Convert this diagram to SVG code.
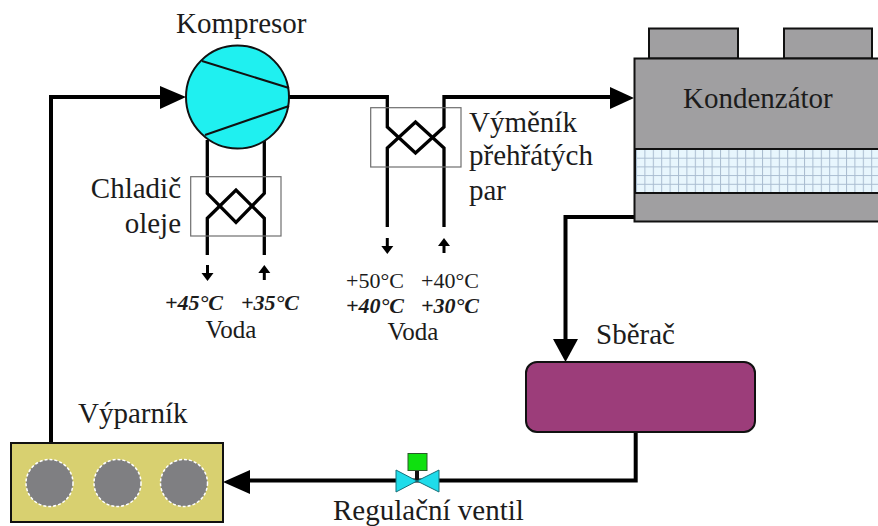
<svg xmlns="http://www.w3.org/2000/svg" width="878" height="526" viewBox="0 0 878 526">
<style>
text{font-family:"Liberation Serif","Times New Roman",serif;fill:#1c1c1c}
.m{font-size:29px}.v{font-size:25px}.s{font-size:22px}.b{font-size:22px;font-weight:bold;font-style:italic}
.p{fill:none;stroke:#000;stroke-width:4;stroke-linejoin:miter}
.h{fill:none;stroke:#000;stroke-width:3.300}
.t{fill:none;stroke:#000;stroke-width:3}
.hx{fill:none;stroke:#6e6e6e;stroke-width:1.2}
.e{stroke:#111;stroke-width:2}
.c{fill:#7f7f82;stroke:#fff;stroke-width:1.5;stroke-dasharray:3 2}
</style>
<defs>
<pattern id="mesh" x="636" y="149" width="8.4" height="8.7" patternUnits="userSpaceOnUse">
<rect width="8.4" height="8.7" fill="#e8f6fd"/>
<path d="M0 0H8.4M0 0V8.7" stroke="#a9bcd0" stroke-width="2" fill="none"/>
</pattern>
</defs>
<rect width="878" height="526" fill="#fff"/>
<g id="connectors">
<path class="p" d="M51 443V97H162"/>
<path d="M186 97L160 86V109Z"/>
<path class="p" d="M289 97H387.3M444 97H612"/>
<path class="h" d="M387.3 95V127L415.5 153L444 127V95"/>
<path d="M634 98L610 87V109Z"/>
<path class="h" d="M387.3 227V148L415.5 122L444 148V227"/>
<path class="h" d="M207.300 140V193.300L236 222.300L264.300 193.300V140"/>
<path class="h" d="M207.300 255V218.300L236 190L264.300 218.300V255"/>
<path class="p" d="M634 217H565.500V342"/>
<path d="M565.500 362L553 339H578Z"/>
<path class="p" d="M635.700 432V480.500H245"/>
<path d="M223 482L250 470V494Z"/>
<path class="t" d="M207.500 265V275"/><path d="M207.500 281L201.500 273H213.500Z"/>
<path class="t" d="M264.300 270V280"/><path d="M264.300 265L258.300 273H270.300Z"/>
<path class="t" d="M387.300 238V248"/><path d="M387.300 254L381.300 246H393.300Z"/>
<path class="t" d="M444 243V253"/><path d="M444 238L438 246H450Z"/>
</g>
<g id="kompresor">
<circle cx="237.500" cy="97" r="51.500" fill="#1ff0f0" class="e"/>
<path d="M202 61L289 88M205 135L289 106" class="e" fill="none"/>
<text class="m" x="176" y="33">Kompresor</text>
</g>
<g id="chladic">
<rect class="hx" x="190.700" y="176.700" width="90.300" height="59.300"/>
<text class="m" x="181" y="198" text-anchor="end">Chladič</text>
<text class="m" x="181" y="233" text-anchor="end">oleje</text>
</g>
<g id="vymenik">
<rect class="hx" x="370.700" y="107.700" width="90.300" height="59.300"/>
<text class="m" x="469" y="132">Výměník</text>
<text class="m" x="469" y="165">přehřátých</text>
<text class="m" x="469" y="200">par</text>
</g>
<g id="kondenzator">
<rect class="e" x="649" y="28.500" width="89" height="30" fill="#a09fa1"/>
<rect class="e" x="784" y="28.500" width="88" height="30" fill="#a09fa1"/>
<rect class="e" x="634.500" y="58.500" width="245" height="163" fill="#a09fa1"/>
<rect class="e" x="635" y="149" width="245" height="44" fill="url(#mesh)"/>
<text class="m" x="683" y="108">Kondenzátor</text>
</g>
<g id="sberac">
<rect class="e" x="526" y="362" width="229" height="70" rx="11" fill="#9c3d7a"/>
<text class="m" x="596" y="344">Sběrač</text>
</g>
<g id="ventil">
<path d="M417 480.500V468" stroke="#111" stroke-width="4"/>
<rect x="408" y="453.500" width="19" height="17" fill="#0fe00f" stroke="#2a5a2a" stroke-width="1"/>
<path d="M396 470L417 481L396 492ZM439 470L417 481L439 492Z" fill="#1fdcea" stroke="#16707a" stroke-width="1"/>
<text class="m" x="333" y="520">Regulační ventil</text>
</g>
<g id="vyparnik">
<rect class="e" x="11" y="443" width="212" height="79" fill="#d8d070"/>
<circle class="c" cx="49.500" cy="483" r="23.500"/>
<circle class="c" cx="117.500" cy="483" r="23.500"/>
<circle class="c" cx="184" cy="483" r="23.500"/>
<text class="m" x="78" y="423">Výparník</text>
</g>
<g id="voda1">
<text class="b" x="165" y="310">+45°C</text>
<text class="b" x="241" y="310">+35°C</text>
<text class="v" x="231" y="338" text-anchor="middle">Voda</text>
</g>
<g id="voda2">
<text class="s" x="346" y="288">+50°C</text>
<text class="s" x="421" y="288">+40°C</text>
<text class="b" x="346" y="313">+40°C</text>
<text class="b" x="421" y="313">+30°C</text>
<text class="v" x="413" y="340" text-anchor="middle">Voda</text>
</g>
</svg>
